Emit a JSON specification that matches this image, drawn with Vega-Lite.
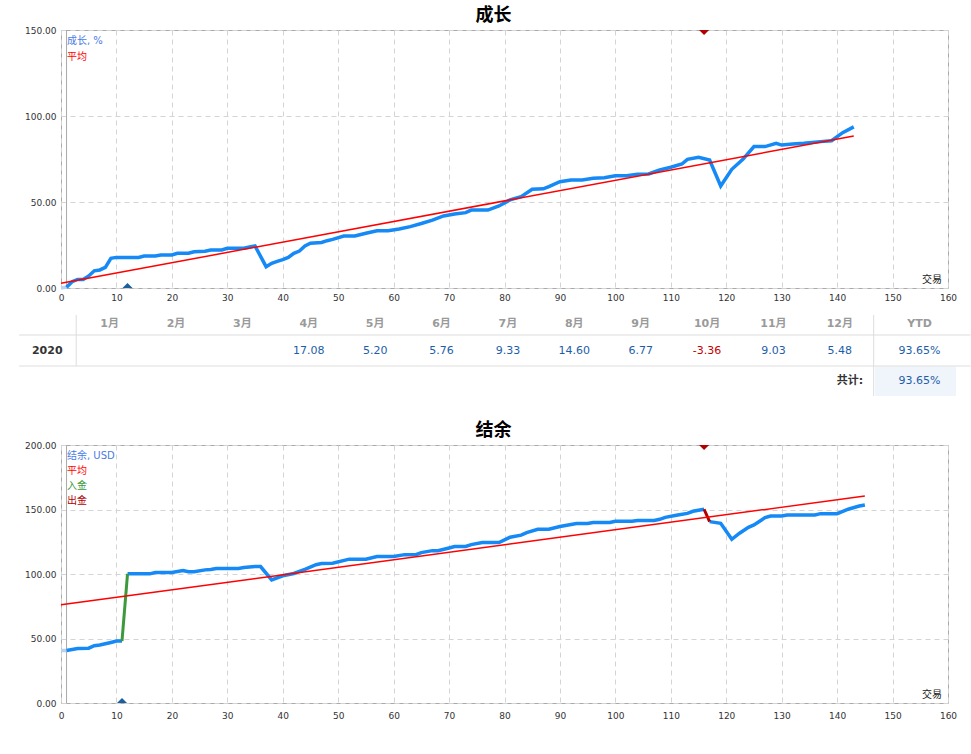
{
  "$schema": "https://vega.github.io/schema/vega-lite/v6.json",
  "padding": {"left": 18, "top": 6, "right": 0, "bottom": 0},
  "bounds": "flush",
  "spacing": 20,
  "resolve": {"scale": {"x": "independent", "y": "independent", "color": "independent", "fill": "independent", "shape": "independent"}},
  "datasets": {
    "growthPre": [{"t": 0, "v": 0}, {"t": 1, "v": 0.5}],
    "growth": [
      {"t": 1, "v": 0.5}, {"t": 2, "v": 3.7}, {"t": 3, "v": 5}, {"t": 4, "v": 5}, {"t": 5, "v": 7},
      {"t": 6, "v": 10}, {"t": 7, "v": 10.5}, {"t": 8, "v": 12}, {"t": 9, "v": 17.3}, {"t": 10, "v": 17.8},
      {"t": 14, "v": 17.8}, {"t": 15, "v": 18.6}, {"t": 17, "v": 18.6}, {"t": 18, "v": 19.2}, {"t": 20, "v": 19.2},
      {"t": 21, "v": 20.2}, {"t": 23, "v": 20.2}, {"t": 24, "v": 21.1}, {"t": 26, "v": 21.4}, {"t": 27, "v": 22.1},
      {"t": 29, "v": 22.1}, {"t": 30, "v": 23.1}, {"t": 33, "v": 23.1}, {"t": 34, "v": 23.8}, {"t": 35, "v": 24.4},
      {"t": 37, "v": 12.4}, {"t": 38, "v": 14.4}, {"t": 39, "v": 15.5}, {"t": 40, "v": 16.5}, {"t": 41, "v": 17.8},
      {"t": 42, "v": 20.2}, {"t": 43, "v": 21.5}, {"t": 44, "v": 24.4}, {"t": 45, "v": 26}, {"t": 47, "v": 26.5},
      {"t": 48, "v": 27.5}, {"t": 49, "v": 28.3}, {"t": 51, "v": 30.2}, {"t": 53, "v": 30.2}, {"t": 55, "v": 31.8},
      {"t": 57, "v": 33.3}, {"t": 59, "v": 33.3}, {"t": 61, "v": 34.3}, {"t": 63, "v": 35.7}, {"t": 65, "v": 37.5},
      {"t": 67, "v": 39.5}, {"t": 69, "v": 41.9}, {"t": 71, "v": 43}, {"t": 73, "v": 43.8}, {"t": 74, "v": 45.3},
      {"t": 77, "v": 45.3}, {"t": 79, "v": 47.7}, {"t": 81, "v": 51.2}, {"t": 83, "v": 53.1}, {"t": 85, "v": 57.4},
      {"t": 87, "v": 57.7}, {"t": 88, "v": 59}, {"t": 90, "v": 61.8}, {"t": 92, "v": 62.8}, {"t": 94, "v": 62.8},
      {"t": 96, "v": 63.8}, {"t": 98, "v": 64.1}, {"t": 100, "v": 65.3}, {"t": 102, "v": 65.3}, {"t": 104, "v": 66.1},
      {"t": 106, "v": 66.3}, {"t": 108, "v": 68.6}, {"t": 110, "v": 70.2}, {"t": 112, "v": 72.1}, {"t": 113, "v": 74.8},
      {"t": 115, "v": 76}, {"t": 117, "v": 74.4}, {"t": 119, "v": 59.3}, {"t": 121, "v": 69}, {"t": 123, "v": 74.8},
      {"t": 125, "v": 82.2}, {"t": 127, "v": 82.2}, {"t": 129, "v": 84.1}, {"t": 130, "v": 83.1}, {"t": 132, "v": 83.7},
      {"t": 134, "v": 84.1}, {"t": 137, "v": 85.1}, {"t": 139, "v": 85.6}, {"t": 141, "v": 90.3}, {"t": 143, "v": 93.65}
    ],
    "growthAvg": [{"t": 0, "v": 2.7}, {"t": 143, "v": 88.4}],
    "growthFlows": [{"t": 12, "v": 0, "kind": "入金"}, {"t": 116, "v": 150, "kind": "出金"}],
    "balancePre": [{"t": 0, "v": 40.7}, {"t": 1, "v": 40.7}],
    "balance": [
      {"t": 1, "v": 40.7, "seg": 1}, {"t": 3, "v": 42.3, "seg": 1}, {"t": 5, "v": 42.5, "seg": 1}, {"t": 6, "v": 44.4, "seg": 1},
      {"t": 7, "v": 44.9, "seg": 1}, {"t": 9, "v": 46.9, "seg": 1}, {"t": 10, "v": 48, "seg": 1}, {"t": 11, "v": 48, "seg": 1},
      {"t": 12, "v": 100.1, "seg": 2}, {"t": 16, "v": 100.1, "seg": 2}, {"t": 17, "v": 101.2, "seg": 2}, {"t": 20, "v": 101.2, "seg": 2},
      {"t": 22, "v": 102.7, "seg": 2}, {"t": 23, "v": 101.7, "seg": 2}, {"t": 24, "v": 101.7, "seg": 2}, {"t": 26, "v": 103.2, "seg": 2},
      {"t": 27, "v": 103.5, "seg": 2}, {"t": 28, "v": 104.2, "seg": 2}, {"t": 32, "v": 104.2, "seg": 2}, {"t": 33, "v": 105, "seg": 2},
      {"t": 35, "v": 105.8, "seg": 2}, {"t": 36, "v": 105.8, "seg": 2}, {"t": 38, "v": 95.4, "seg": 2}, {"t": 40, "v": 98.6, "seg": 2},
      {"t": 42, "v": 100.4, "seg": 2}, {"t": 44, "v": 103.6, "seg": 2}, {"t": 46, "v": 107.2, "seg": 2}, {"t": 47, "v": 108.1, "seg": 2},
      {"t": 49, "v": 108.3, "seg": 2}, {"t": 52, "v": 111.5, "seg": 2}, {"t": 55, "v": 111.5, "seg": 2}, {"t": 57, "v": 113.5, "seg": 2},
      {"t": 60, "v": 113.5, "seg": 2}, {"t": 62, "v": 115, "seg": 2}, {"t": 64, "v": 115, "seg": 2}, {"t": 65, "v": 116.6, "seg": 2},
      {"t": 67, "v": 118.1, "seg": 2}, {"t": 68, "v": 118.1, "seg": 2}, {"t": 70, "v": 120.2, "seg": 2}, {"t": 71, "v": 121.3, "seg": 2},
      {"t": 73, "v": 121.3, "seg": 2}, {"t": 74, "v": 122.8, "seg": 2}, {"t": 76, "v": 124.4, "seg": 2}, {"t": 79, "v": 124.4, "seg": 2},
      {"t": 81, "v": 128.5, "seg": 2}, {"t": 83, "v": 130.1, "seg": 2}, {"t": 84, "v": 132.1, "seg": 2}, {"t": 86, "v": 134.7, "seg": 2},
      {"t": 88, "v": 134.7, "seg": 2}, {"t": 90, "v": 136.8, "seg": 2}, {"t": 92, "v": 138.3, "seg": 2}, {"t": 93, "v": 139.1, "seg": 2},
      {"t": 95, "v": 139.1, "seg": 2}, {"t": 96, "v": 139.9, "seg": 2}, {"t": 99, "v": 139.9, "seg": 2}, {"t": 100, "v": 140.9, "seg": 2},
      {"t": 103, "v": 140.9, "seg": 2}, {"t": 104, "v": 141.5, "seg": 2}, {"t": 107, "v": 141.5, "seg": 2}, {"t": 108, "v": 142.4, "seg": 2},
      {"t": 109, "v": 143.9, "seg": 2}, {"t": 111, "v": 145.5, "seg": 2}, {"t": 113, "v": 147, "seg": 2}, {"t": 114, "v": 148.6, "seg": 2},
      {"t": 116, "v": 150.2, "seg": 2},
      {"t": 117, "v": 140.6, "seg": 3}, {"t": 119, "v": 139.3, "seg": 3}, {"t": 121, "v": 126.9, "seg": 3}, {"t": 122.4, "v": 131.6, "seg": 3},
      {"t": 124, "v": 136.2, "seg": 3}, {"t": 125, "v": 138, "seg": 3}, {"t": 127, "v": 143.7, "seg": 3}, {"t": 128, "v": 145, "seg": 3},
      {"t": 130, "v": 145, "seg": 3}, {"t": 131, "v": 145.8, "seg": 3}, {"t": 136, "v": 145.8, "seg": 3}, {"t": 137, "v": 146.8, "seg": 3},
      {"t": 140, "v": 146.8, "seg": 3}, {"t": 142, "v": 150.2, "seg": 3}, {"t": 144, "v": 152.7, "seg": 3}, {"t": 145, "v": 153.5, "seg": 3}
    ],
    "balanceAvg": [{"t": 0, "v": 76.1}, {"t": 145, "v": 160.5}],
    "deposit": [{"t": 11, "v": 48}, {"t": 12, "v": 100.1}],
    "withdrawal": [{"t": 116, "v": 150.2}, {"t": 117, "v": 140.6}],
    "balanceFlows": [{"t": 11, "v": 0, "kind": "入金"}, {"t": 116, "v": 200, "kind": "出金"}],
    "months": [
      {"month": 1, "label": "1月", "ret": null}, {"month": 2, "label": "2月", "ret": null},
      {"month": 3, "label": "3月", "ret": null}, {"month": 4, "label": "4月", "ret": 17.08},
      {"month": 5, "label": "5月", "ret": 5.20}, {"month": 6, "label": "6月", "ret": 5.76},
      {"month": 7, "label": "7月", "ret": 9.33}, {"month": 8, "label": "8月", "ret": 14.60},
      {"month": 9, "label": "9月", "ret": 6.77}, {"month": 10, "label": "10月", "ret": -3.36},
      {"month": 11, "label": "11月", "ret": 9.03}, {"month": 12, "label": "12月", "ret": 5.48}
    ],
    "summary": [{"year": "2020", "ytd": "93.65%", "total": "93.65%"}]
  },
  "vconcat": [
    {
      "width": 887,
      "height": 258,
      "title": {"text": "成长"},
      "layer": [
        {
          "data": {"values": [{"t": 1}]},
          "mark": {"type": "rule", "color": "#aaaaaa", "strokeWidth": 1},
          "encoding": {
            "x": {"field": "t", "type": "quantitative", "title": null, "scale": {"domain": [0, 160], "nice": false},
              "axis": {"values": [0, 10, 20, 30, 40, 50, 60, 70, 80, 90, 100, 110, 120, 130, 140, 150, 160], "labelPadding": 5}}
          }
        },
        {
          "data": {"name": "growthPre"},
          "mark": {"type": "line", "color": "#b9d3ef", "strokeWidth": 3.5},
          "encoding": {
            "x": {"field": "t", "type": "quantitative", "title": null},
            "y": {"field": "v", "type": "quantitative", "title": null, "scale": {"domain": [0, 150], "nice": false},
              "axis": {"values": [0, 50, 100, 150], "format": ".2f"}}
          }
        },
        {
          "data": {"name": "growth"},
          "mark": {"type": "line", "strokeWidth": 3.5},
          "encoding": {
            "x": {"field": "t", "type": "quantitative", "title": null},
            "y": {"field": "v", "type": "quantitative", "title": null},
            "color": {
              "datum": "成长, %",
              "scale": {"domain": ["成长, %", "平均"], "range": ["#1589f5", "#ff0000"]},
              "legend": {
                "orient": "top-left", "offset": 6, "padding": 0, "title": null,
                "symbolSize": 0, "symbolOpacity": 0, "symbolStrokeWidth": 0, "labelOffset": -10,
                "labelFont": "DejaVu Sans, Noto Sans CJK SC", "labelFontSize": 10, "rowPadding": 5.5,
                "encode": {"labels": {"update": {"fill": {"signal": "datum.value === '平均' ? '#ff0000' : '#4b7be6'"}}}}
              }
            }
          }
        },
        {
          "data": {"name": "growthAvg"},
          "mark": {"type": "line", "strokeWidth": 1.5},
          "encoding": {
            "x": {"field": "t", "type": "quantitative", "title": null},
            "y": {"field": "v", "type": "quantitative", "title": null},
            "color": {"datum": "平均"}
          }
        },
        {
          "data": {"name": "growthFlows"},
          "mark": {"type": "point", "filled": true, "opacity": 1, "size": 100, "strokeWidth": 0},
          "encoding": {
            "x": {"field": "t", "type": "quantitative", "title": null},
            "y": {"field": "v", "type": "quantitative", "title": null},
            "shape": {"field": "kind", "type": "nominal", "legend": null,
              "scale": {"domain": ["入金", "出金"], "range": ["M-1,0L0,-1L1,0Z", "M-1,0L0,1L1,0Z"]}},
            "fill": {"field": "kind", "type": "nominal", "legend": null,
              "scale": {"domain": ["入金", "出金"], "range": ["#1a5f9e", "#b00000"]}}
          }
        },
        {
          "data": {"values": [{"t": 160, "v": 0}]},
          "mark": {"type": "text", "text": "交易", "align": "right", "baseline": "bottom", "dx": -6, "dy": -3,
            "font": "Noto Sans CJK SC", "fontSize": 10, "color": "#222222"},
          "encoding": {
            "x": {"field": "t", "type": "quantitative", "title": null},
            "y": {"field": "v", "type": "quantitative", "title": null}
          }
        }
      ]
    },
    {
      "width": 887,
      "height": 117,
      "view": {"stroke": null},
      "encoding": {
        "x": {"type": "quantitative", "scale": {"domain": [0.267, 13.63], "nice": false, "zero": false}, "axis": null},
        "y": {"type": "quantitative", "scale": {"domain": [-0.593, 3.741], "nice": false, "zero": false, "reverse": true}, "axis": null}
      },
      "layer": [
        {
          "data": {"values": [{}]},
          "mark": {"type": "rect", "fill": "#f0f4fb"},
          "encoding": {"x": {"datum": 12.53}, "x2": {"datum": 13.75}, "y": {"datum": 1.574}, "y2": {"datum": 2.667}}
        },
        {
          "data": {"values": [{}]},
          "mark": {"type": "rule", "color": "#dddddd", "strokeWidth": 1},
          "encoding": {"x": {"datum": -0.365}, "x2": {"datum": 13.97}, "y": {"datum": 0.407}}
        },
        {
          "data": {"values": [{}]},
          "mark": {"type": "rule", "color": "#dddddd", "strokeWidth": 1},
          "encoding": {"x": {"datum": -0.365}, "x2": {"datum": 13.97}, "y": {"datum": 1.556}}
        },
        {
          "data": {"values": [{}]},
          "mark": {"type": "rule", "color": "#dddddd", "strokeWidth": 1},
          "encoding": {"x": {"datum": 0.496}, "y": {"datum": -0.333}, "y2": {"datum": 1.556}}
        },
        {
          "data": {"values": [{}]},
          "mark": {"type": "rule", "color": "#dddddd", "strokeWidth": 1},
          "encoding": {"x": {"datum": 12.51}, "y": {"datum": -0.333}, "y2": {"datum": 2.667}}
        },
        {
          "data": {"name": "months"},
          "mark": {"type": "text", "baseline": "middle", "font": "DejaVu Sans, Noto Sans CJK SC", "fontSize": 11, "fontWeight": "bold", "color": "#9a9a9a"},
          "encoding": {"x": {"field": "month"}, "y": {"datum": 0}, "text": {"field": "label"}}
        },
        {
          "data": {"name": "months"},
          "transform": [{"filter": "datum.ret != null"}],
          "mark": {"type": "text", "baseline": "middle", "font": "DejaVu Sans", "fontSize": 11},
          "encoding": {
            "x": {"field": "month"},
            "y": {"datum": 1},
            "text": {"field": "ret", "type": "quantitative", "format": ".2f"},
            "color": {"condition": {"test": "datum.ret < 0", "value": "#c40000"}, "value": "#1d5ea8"}
          }
        },
        {
          "data": {"name": "summary"},
          "mark": {"type": "text", "baseline": "middle", "font": "DejaVu Sans", "fontSize": 11, "fontWeight": "bold", "color": "#333333"},
          "encoding": {"x": {"datum": 0.06}, "y": {"datum": 1}, "text": {"field": "year"}}
        },
        {
          "data": {"values": [{}]},
          "mark": {"type": "text", "text": "YTD", "baseline": "middle", "font": "DejaVu Sans", "fontSize": 11, "fontWeight": "bold", "color": "#9a9a9a"},
          "encoding": {"x": {"datum": 13.2}, "y": {"datum": 0}}
        },
        {
          "data": {"name": "summary"},
          "mark": {"type": "text", "baseline": "middle", "font": "DejaVu Sans", "fontSize": 11, "color": "#1d5ea8"},
          "encoding": {"x": {"datum": 13.2}, "y": {"datum": 1}, "text": {"field": "ytd"}}
        },
        {
          "data": {"values": [{}]},
          "mark": {"type": "text", "text": "共计:", "align": "right", "baseline": "middle", "font": "DejaVu Sans, Noto Sans CJK SC", "fontSize": 11, "fontWeight": "bold", "color": "#333333"},
          "encoding": {"x": {"datum": 12.35}, "y": {"datum": 2.11}}
        },
        {
          "data": {"name": "summary"},
          "mark": {"type": "text", "baseline": "middle", "font": "DejaVu Sans", "fontSize": 11, "color": "#1d5ea8"},
          "encoding": {"x": {"datum": 13.2}, "y": {"datum": 2.11}, "text": {"field": "total"}}
        }
      ]
    },
    {
      "width": 887,
      "height": 258,
      "title": {"text": "结余"},
      "layer": [
        {
          "data": {"values": [{"t": 1}]},
          "mark": {"type": "rule", "color": "#aaaaaa", "strokeWidth": 1},
          "encoding": {
            "x": {"field": "t", "type": "quantitative", "title": null, "scale": {"domain": [0, 160], "nice": false},
              "axis": {"values": [0, 10, 20, 30, 40, 50, 60, 70, 80, 90, 100, 110, 120, 130, 140, 150, 160], "labelPadding": 8}}
          }
        },
        {
          "data": {"name": "balancePre"},
          "mark": {"type": "line", "color": "#b9d3ef", "strokeWidth": 3.5},
          "encoding": {
            "x": {"field": "t", "type": "quantitative", "title": null},
            "y": {"field": "v", "type": "quantitative", "title": null, "scale": {"domain": [0, 200], "nice": false},
              "axis": {"values": [0, 50, 100, 150, 200], "format": ".2f"}}
          }
        },
        {
          "data": {"name": "balance"},
          "mark": {"type": "line", "strokeWidth": 3.5},
          "encoding": {
            "x": {"field": "t", "type": "quantitative", "title": null},
            "y": {"field": "v", "type": "quantitative", "title": null},
            "detail": {"field": "seg"},
            "color": {
              "datum": "结余, USD",
              "scale": {"domain": ["结余, USD", "平均", "入金", "出金"], "range": ["#1589f5", "#ff0000", "#3c9a3c", "#b00000"]},
              "legend": {
                "orient": "top-left", "offset": 6, "padding": 0, "title": null,
                "symbolSize": 0, "symbolOpacity": 0, "symbolStrokeWidth": 0, "labelOffset": -10,
                "labelFont": "DejaVu Sans, Noto Sans CJK SC", "labelFontSize": 10, "rowPadding": 5,
                "encode": {"labels": {"update": {"fill": {"signal": "datum.value === '平均' ? '#ff0000' : datum.value === '入金' ? '#3c9a3c' : datum.value === '出金' ? '#b00000' : '#4b7be6'"}}}}
              }
            }
          }
        },
        {
          "data": {"name": "deposit"},
          "mark": {"type": "line", "strokeWidth": 3},
          "encoding": {
            "x": {"field": "t", "type": "quantitative", "title": null},
            "y": {"field": "v", "type": "quantitative", "title": null},
            "color": {"datum": "入金"}
          }
        },
        {
          "data": {"name": "withdrawal"},
          "mark": {"type": "line", "strokeWidth": 3},
          "encoding": {
            "x": {"field": "t", "type": "quantitative", "title": null},
            "y": {"field": "v", "type": "quantitative", "title": null},
            "color": {"datum": "出金"}
          }
        },
        {
          "data": {"name": "balanceAvg"},
          "mark": {"type": "line", "strokeWidth": 1.5},
          "encoding": {
            "x": {"field": "t", "type": "quantitative", "title": null},
            "y": {"field": "v", "type": "quantitative", "title": null},
            "color": {"datum": "平均"}
          }
        },
        {
          "data": {"name": "balanceFlows"},
          "mark": {"type": "point", "filled": true, "opacity": 1, "size": 100, "strokeWidth": 0},
          "encoding": {
            "x": {"field": "t", "type": "quantitative", "title": null},
            "y": {"field": "v", "type": "quantitative", "title": null},
            "shape": {"field": "kind", "type": "nominal", "legend": null,
              "scale": {"domain": ["入金", "出金"], "range": ["M-1,0L0,-1L1,0Z", "M-1,0L0,1L1,0Z"]}},
            "fill": {"field": "kind", "type": "nominal", "legend": null,
              "scale": {"domain": ["入金", "出金"], "range": ["#1a5f9e", "#b00000"]}}
          }
        },
        {
          "data": {"values": [{"t": 160, "v": 0}]},
          "mark": {"type": "text", "text": "交易", "align": "right", "baseline": "bottom", "dx": -6, "dy": -3,
            "font": "Noto Sans CJK SC", "fontSize": 10, "color": "#222222"},
          "encoding": {
            "x": {"field": "t", "type": "quantitative", "title": null},
            "y": {"field": "v", "type": "quantitative", "title": null}
          }
        }
      ]
    }
  ],
  "config": {
    "font": "DejaVu Sans",
    "locale": {"number": {"decimal": ".", "thousands": ",", "grouping": [3], "currency": ["$", ""], "minus": "-"}},
    "view": {"stroke": "#aaaaaa"},
    "title": {"font": "Noto Sans CJK SC", "fontSize": 18, "fontWeight": "bold", "color": "#000000", "offset": 1, "dx": -11, "anchor": "middle"},
    "axis": {
      "labelFont": "DejaVu Sans", "labelFontSize": 9, "labelColor": "#333333",
      "ticks": false, "domain": false, "grid": true, "gridColor": "#d4d4d4", "gridDash": [5, 4],
      "labelFlush": false, "labelOverlap": false, "labelPadding": 5
    }
  }
}
